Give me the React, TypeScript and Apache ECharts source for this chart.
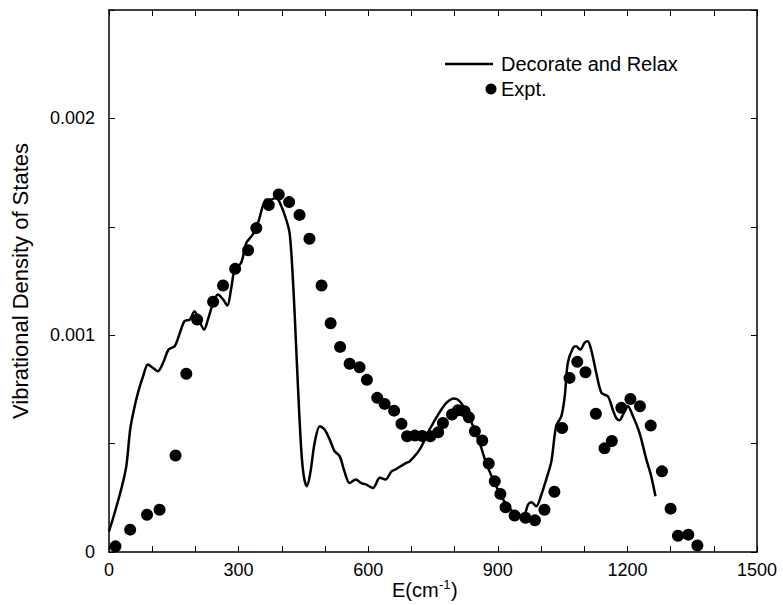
import React, { useEffect, useRef } from "react";
import * as echarts from "echarts";

const lineE = [0, 13, 29, 40, 49, 57, 67, 79, 90, 102, 113, 125, 138, 152, 164, 175, 187, 198, 208, 220, 229, 241, 252, 264, 274, 283, 291, 306, 318, 333, 345, 356, 364, 376, 387, 399, 410, 418, 424, 430, 437, 445, 451, 458, 466, 476, 488, 499, 511, 522, 534, 545, 557, 571, 584, 596, 611, 627, 640, 654, 665, 688, 696, 719, 742, 762, 781, 799, 812, 827, 843, 858, 873, 889, 904, 920, 939, 959, 970, 978, 989, 1001, 1012, 1024, 1035, 1047, 1055, 1062, 1074, 1081, 1091, 1101, 1108, 1116, 1128, 1140, 1155, 1166, 1174, 1182, 1190, 1201, 1213, 1228, 1244, 1255, 1265];
const lineV = [0.000095, 0.00018, 0.000295, 0.000395, 0.000565, 0.00065, 0.000734, 0.000811, 0.000865, 0.000849, 0.000834, 0.000872, 0.000934, 0.000949, 0.00101, 0.001065, 0.001072, 0.001111, 0.001072, 0.001026, 0.001072, 0.001149, 0.001188, 0.001165, 0.001137, 0.001218, 0.001303, 0.001334, 0.001426, 0.001465, 0.001518, 0.001595, 0.001626, 0.001626, 0.001634, 0.001595, 0.001534, 0.001472, 0.001318, 0.001088, 0.00078, 0.000472, 0.000349, 0.000303, 0.000365, 0.000503, 0.00058, 0.000565, 0.000518, 0.000465, 0.000442, 0.000372, 0.000318, 0.000334, 0.000318, 0.000311, 0.000295, 0.000342, 0.000334, 0.000372, 0.000383, 0.000411, 0.000418, 0.000472, 0.000565, 0.000634, 0.000688, 0.000708, 0.000695, 0.000649, 0.00058, 0.000503, 0.000411, 0.000334, 0.000272, 0.000218, 0.00018, 0.000165, 0.000218, 0.000229, 0.000211, 0.000265, 0.000334, 0.000418, 0.00058, 0.000626, 0.000718, 0.000872, 0.000941, 0.000949, 0.000934, 0.000965, 0.000972, 0.000934, 0.000826, 0.000734, 0.000718, 0.000657, 0.000618, 0.000608, 0.000634, 0.000672, 0.000626, 0.000549, 0.000426, 0.00035, 0.000257];

const exptE = [15, 49, 88, 117, 154, 179, 204, 241, 264, 292, 322, 341, 370, 393, 417, 441, 464, 492, 513, 535, 557, 580, 597, 621, 638, 660, 677, 690, 708, 725, 744, 762, 773, 794, 808, 823, 833, 847, 864, 879, 893, 906, 918, 939, 964, 986, 1008, 1031, 1049, 1066, 1084, 1103, 1127, 1147, 1164, 1186, 1207, 1229, 1254, 1280, 1300, 1317, 1341, 1362];
const exptV = [0.000026, 0.000103, 0.000172, 0.000195, 0.000445, 0.000822, 0.001072, 0.001154, 0.001229, 0.001306, 0.001392, 0.001494, 0.0016, 0.001649, 0.001614, 0.001555, 0.001445, 0.001229, 0.001055, 0.000946, 0.000868, 0.000852, 0.000794, 0.000711, 0.000683, 0.000652, 0.000591, 0.000534, 0.000537, 0.000535, 0.000534, 0.000552, 0.000595, 0.000634, 0.000654, 0.000649, 0.000621, 0.000557, 0.000514, 0.000408, 0.000326, 0.000268, 0.000206, 0.000168, 0.000158, 0.000146, 0.000195, 0.000278, 0.000572, 0.000803, 0.000877, 0.000829, 0.000638, 0.000478, 0.000512, 0.000665, 0.000706, 0.000672, 0.000583, 0.000372, 0.0002, 0.000075, 0.00008, 0.00003];

const seriesNames = ["Decorate and Relax", "Expt."];
const xTitle = "E(cm";
const xTitleSup = "-1";
const xTitleEnd = ")";
const yTitle = "Vibrational Density of States";

export default function App() {
  const ref = useRef<HTMLDivElement>(null);
  useEffect(() => {
    if (!ref.current) return;
    const chart = echarts.init(ref.current, null, { renderer: "svg" });
    const font = "'Liberation Sans', Arial, sans-serif";
    const axisCommon = {
      axisLine: { show: true, onZero: false, lineStyle: { color: "#000", width: 1.5 } },
      axisTick: { show: true, inside: true, length: 6, lineStyle: { color: "#000", width: 1 } },
      splitLine: { show: false },
    };
    chart.setOption({
      animation: false,
      backgroundColor: "#fff",
      grid: { left: 109, top: 10, width: 648, height: 542, containLabel: false, outerBoundsMode: "none" },
      legend: { show: false },
      graphic: [
        { type: "line", shape: { x1: 445, y1: 64, x2: 493, y2: 64 }, style: { stroke: "#000", lineWidth: 2.5 } },
        { type: "text", x: 501, y: 64, style: { text: seriesNames[0], fontFamily: font, fontSize: 20, fill: "#000", verticalAlign: "middle" } },
        { type: "circle", shape: { cx: 491, cy: 89, r: 5.5 }, style: { fill: "#000" } },
        { type: "text", x: 501, y: 89, style: { text: seriesNames[1], fontFamily: font, fontSize: 20, fill: "#000", verticalAlign: "middle" } },
        { type: "text", x: 392, y: 590, style: { text: xTitle, fontFamily: font, fontSize: 20, fill: "#000", verticalAlign: "middle" } },
        { type: "text", x: 439, y: 584, style: { text: xTitleSup, fontFamily: font, fontSize: 13, fill: "#000", verticalAlign: "middle" } },
        { type: "text", x: 451, y: 590, style: { text: xTitleEnd, fontFamily: font, fontSize: 20, fill: "#000", verticalAlign: "middle" } },
      ],
      xAxis: [
        {
          type: "value",
          min: 0,
          max: 1500,
          interval: 100,
          ...axisCommon,
          axisLabel: {
            fontFamily: font,
            fontSize: 18,
            color: "#000",
            margin: 9,
            formatter: (v: number) => (v % 300 === 0 ? String(v) : ""),
          },
        },
        {
          type: "value",
          position: "top",
          min: 0,
          max: 1500,
          interval: 100,
          ...axisCommon,
          axisLabel: { show: false },
        },
      ],
      yAxis: [
        {
          type: "value",
          min: 0,
          max: 0.0025,
          interval: 0.0005,
          ...axisCommon,
          axisLabel: {
            fontFamily: font,
            fontSize: 18,
            color: "#000",
            margin: 14,
            formatter: (v: number) => {
              const r = Math.round(v * 10000);
              if (r === 0) return "0";
              if (r === 10) return "0.001";
              if (r === 20) return "0.002";
              return "";
            },
          },
          name: yTitle,
          nameLocation: "middle",
          nameGap: 78,
          nameTextStyle: { fontFamily: font, fontSize: 22, color: "#000" },
        },
        {
          type: "value",
          position: "right",
          min: 0,
          max: 0.0025,
          interval: 0.0005,
          ...axisCommon,
          axisLabel: { show: false },
        },
      ],
      series: [
        {
          name: seriesNames[0],
          type: "line",
          data: lineE.map((e, i) => [e, lineV[i]]),
          smooth: 0.3,
          showSymbol: false,
          symbol: "none",
          lineStyle: { color: "#000", width: 2.5 },
          itemStyle: { color: "#000" },
        },
        {
          name: seriesNames[1],
          type: "scatter",
          data: exptE.map((e, i) => [e, exptV[i]]),
          symbol: "circle",
          symbolSize: 12,
          itemStyle: { color: "#000", opacity: 1 },
        },
      ],
    });
    return () => chart.dispose();
  }, []);
  return <div ref={ref} style={{ position: "fixed", left: 0, top: 0, width: 783, height: 605 }} />;
}
